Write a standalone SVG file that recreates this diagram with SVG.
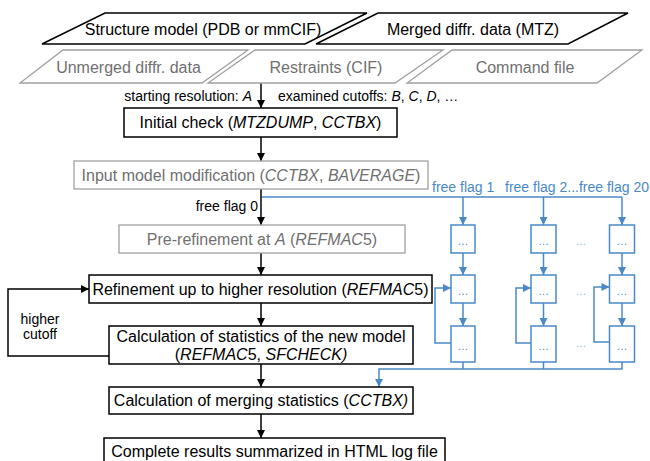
<svg xmlns="http://www.w3.org/2000/svg" width="650" height="461" viewBox="0 0 650 461">
<style>
text{font-family:"Liberation Sans",Arial,sans-serif;}
.t16{font-size:16px;fill:#000;text-anchor:middle;}
.g16{font-size:16px;fill:#707070;text-anchor:middle;}
.t14{font-size:14px;fill:#000;}
.b14{font-size:14px;fill:#4a89c8;}
.dots{font-size:11px;fill:#4a89c8;text-anchor:middle;}
.gdots{font-size:11px;fill:#8fb3dc;text-anchor:middle;}
.box{fill:#fff;stroke:#000;stroke-width:1.5;}
.gbox{fill:#fff;stroke:#a0a0a0;stroke-width:1.3;}
.bbox{fill:#fff;stroke:#4a89c8;stroke-width:1.5;}
.k{fill:none;stroke:#000;stroke-width:1.5;}
.bl{fill:none;stroke:#4a89c8;stroke-width:1.5;}
.i{font-style:italic;}
</style>
<defs>
<marker id="ak" viewBox="0 0 10 10" refX="10" refY="5" markerWidth="9" markerHeight="8" markerUnits="userSpaceOnUse" orient="auto"><path d="M0,0 L10,5 L0,10 z" fill="#000"/></marker>
<marker id="ab" viewBox="0 0 10 10" refX="10" refY="5" markerWidth="9" markerHeight="8" markerUnits="userSpaceOnUse" orient="auto"><path d="M0,0 L10,5 L0,10 z" fill="#4a89c8"/></marker>
</defs>
<rect width="650" height="461" fill="#fff"/>
<g id="connectors">
<line class="k" x1="261" y1="83" x2="261" y2="108" marker-end="url(#ak)"/>
<line class="k" x1="261" y1="137" x2="261" y2="161" marker-end="url(#ak)"/>
<line class="k" x1="261" y1="189" x2="261" y2="225" marker-end="url(#ak)"/>
<line class="k" x1="261" y1="253" x2="261" y2="275" marker-end="url(#ak)"/>
<line class="k" x1="261" y1="303" x2="261" y2="326" marker-end="url(#ak)"/>
<line class="k" x1="261" y1="364" x2="261" y2="387" marker-end="url(#ak)"/>
<line class="k" x1="261" y1="414" x2="261" y2="438" marker-end="url(#ak)"/>
<polyline class="k" points="109,356 8,356 8,289 89,289" marker-end="url(#ak)"/>
<polyline class="bl" points="262,197 622,197"/>
<line class="bl" x1="463" y1="197" x2="463" y2="225" marker-end="url(#ab)"/>
<line class="bl" x1="543.5" y1="197" x2="543.5" y2="225" marker-end="url(#ab)"/>
<line class="bl" x1="622" y1="197" x2="622" y2="225" marker-end="url(#ab)"/>
<line class="bl" x1="463" y1="253" x2="463" y2="275" marker-end="url(#ab)"/>
<line class="bl" x1="543.5" y1="253" x2="543.5" y2="275" marker-end="url(#ab)"/>
<line class="bl" x1="622" y1="253" x2="622" y2="275" marker-end="url(#ab)"/>
<line class="bl" x1="463" y1="303" x2="463" y2="326" marker-end="url(#ab)"/>
<line class="bl" x1="543.5" y1="303" x2="543.5" y2="326" marker-end="url(#ab)"/>
<line class="bl" x1="622" y1="303" x2="622" y2="326" marker-end="url(#ab)"/>
<polyline class="bl" points="451,343 435,343 435,288 451,288" marker-end="url(#ab)"/>
<polyline class="bl" points="531,343 516,343 516,288 531,288" marker-end="url(#ab)"/>
<polyline class="bl" points="609.5,342 594,342 594,287 609.5,287" marker-end="url(#ab)"/>
<polyline class="bl" points="463,362 463,369"/>
<polyline class="bl" points="543.5,362 543.5,369"/>
<polyline class="bl" points="622,362 622,369 379,369 379,387" marker-end="url(#ab)"/>
</g>
<g id="structure-model">
<polygon class="box" points="42,44 305,44 367,13 105,13"/>
<text class="t16" x="203" y="35">Structure model (PDB or mmCIF)</text>
</g>
<g id="merged-data">
<polygon class="box" points="316,44 568,44 628,13 378,13"/>
<text class="t16" x="473" y="35">Merged diffr. data (MTZ)</text>
</g>
<g id="unmerged-data">
<polygon class="gbox" points="20,83 202,83 248,50 63,50"/>
<text class="g16" x="128.5" y="73">Unmerged diffr. data</text>
</g>
<g id="restraints">
<polygon class="gbox" points="208,83 395,83 443,50 255,50"/>
<text class="g16" x="326" y="73">Restraints (CIF)</text>
</g>
<g id="command-file">
<polygon class="gbox" points="407,83 597,83 642,50 452,50"/>
<text class="g16" x="525" y="73">Command file</text>
</g>
<g id="labels">
<text class="t14" x="252" y="101" text-anchor="end">starting resolution: <tspan class="i">A</tspan></text>
<text class="t14" x="278" y="101">examined cutoffs: <tspan class="i">B</tspan>, <tspan class="i">C</tspan>, <tspan class="i">D</tspan>, …</text>
<text class="t14" x="258" y="211" text-anchor="end">free flag 0</text>
<text class="t14" x="40" y="324" text-anchor="middle">higher</text>
<text class="t14" x="40" y="339" text-anchor="middle">cutoff</text>
<text class="b14" x="432" y="192">free flag 1</text>
<text class="b14" x="505" y="192">free flag 2...free flag 20</text>
</g>
<g id="initial-check">
<rect class="box" x="124" y="108" width="273" height="29"/>
<text class="t16" x="260.5" y="128">Initial check (<tspan class="i">MTZDUMP</tspan>, <tspan class="i">CCTBX</tspan>)</text>
</g>
<g id="input-model-modification">
<rect class="gbox" x="74" y="161" width="354" height="28"/>
<text class="g16" x="251" y="181">Input model modification (<tspan class="i">CCTBX</tspan>, <tspan class="i">BAVERAGE</tspan>)</text>
</g>
<g id="pre-refinement">
<rect class="gbox" x="119" y="225" width="286" height="28"/>
<text class="g16" x="262" y="245">Pre-refinement at <tspan class="i">A</tspan> (<tspan class="i">REFMAC</tspan>5)</text>
</g>
<g id="refinement">
<rect class="box" x="89" y="275" width="343" height="28"/>
<text class="t16" x="260.5" y="295">Refinement up to higher resolution (<tspan class="i">REFMAC</tspan>5)</text>
</g>
<g id="statistics">
<rect class="box" x="109" y="326" width="304" height="38"/>
<text class="t16" x="261" y="342">Calculation of statistics of the new model</text>
<text class="t16" x="261" y="360">(<tspan class="i">REFMAC</tspan>5, <tspan class="i">SFCHECK)</tspan></text>
</g>
<g id="merging-statistics">
<rect class="box" x="109" y="387" width="304" height="27"/>
<text class="t16" x="261" y="406">Calculation of merging statistics (<tspan class="i">CCTBX)</tspan></text>
</g>
<g id="complete-results">
<rect class="box" x="104" y="438" width="341" height="30"/>
<text class="t16" x="274.5" y="457">Complete results summarized in HTML log file</text>
</g>
<g id="flag-boxes">
<rect class="bbox" x="451" y="225" width="24" height="28"/>
<rect class="bbox" x="531" y="225" width="25" height="28"/>
<rect class="bbox" x="609.5" y="225" width="25" height="28"/>
<rect class="bbox" x="451" y="275" width="24" height="28"/>
<rect class="bbox" x="531" y="275" width="25" height="28"/>
<rect class="bbox" x="609.5" y="275" width="25" height="28"/>
<rect class="bbox" x="451" y="326" width="24" height="36"/>
<rect class="bbox" x="531" y="326" width="25" height="36"/>
<rect class="bbox" x="609.5" y="326" width="25" height="36"/>
<text class="dots" x="463" y="245">…</text>
<text class="dots" x="543.5" y="245">…</text>
<text class="dots" x="622" y="245">…</text>
<text class="dots" x="463" y="295">…</text>
<text class="dots" x="543.5" y="295">…</text>
<text class="dots" x="622" y="295">…</text>
<text class="dots" x="463" y="350">…</text>
<text class="dots" x="543.5" y="350">…</text>
<text class="dots" x="622" y="350">…</text>
<text class="gdots" x="581" y="245">…</text>
<text class="gdots" x="581" y="295">…</text>
<text class="gdots" x="581" y="347">…</text>
</g>
</svg>
